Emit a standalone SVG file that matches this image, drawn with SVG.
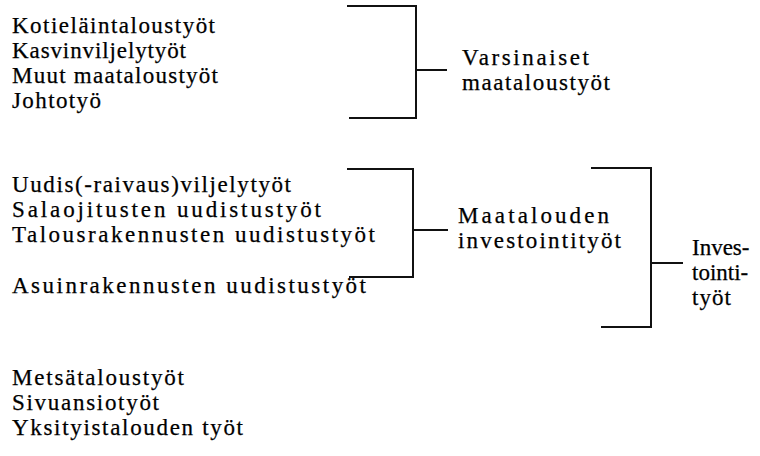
<svg xmlns="http://www.w3.org/2000/svg" width="760" height="456" viewBox="0 0 760 456" font-family="'Liberation Serif', 'DejaVu Serif', serif">
<style>
text{font-family:'Liberation Serif','DejaVu Serif',serif;font-size:23px;fill:#000;stroke:#000;stroke-width:0.25}
.b{fill:none;stroke:#111;stroke-width:2;stroke-linecap:square}
</style>
<rect width="760" height="456" fill="#fff"/>
<g id="items-farm">
<text x="12" y="33" textLength="203" lengthAdjust="spacing">Kotieläintaloustyöt</text>
<text x="12" y="58" textLength="174" lengthAdjust="spacing">Kasvinviljelytyöt</text>
<text x="12" y="83" textLength="206" lengthAdjust="spacing">Muut maataloustyöt</text>
<text x="12" y="108" textLength="89" lengthAdjust="spacing">Johtotyö</text>
</g>
<g id="items-invest">
<text x="12" y="192" textLength="279" lengthAdjust="spacing">Uudis(-raivaus)viljelytyöt</text>
<text x="12" y="217" textLength="309" lengthAdjust="spacing">Salaojitusten uudistustyöt</text>
<text x="12" y="242" textLength="363" lengthAdjust="spacing">Talousrakennusten uudistustyöt</text>
</g>
<g id="item-housing">
<text x="12" y="293" textLength="354" lengthAdjust="spacing">Asuinrakennusten uudistustyöt</text>
</g>
<g id="items-other">
<text x="12" y="385" textLength="172" lengthAdjust="spacing">Metsätaloustyöt</text>
<text x="12" y="410" textLength="147" lengthAdjust="spacing">Sivuansiotyöt</text>
<text x="12" y="435" textLength="231" lengthAdjust="spacing">Yksityistalouden työt</text>
</g>
<g id="varsinaiset">
<text x="462" y="65" textLength="127" lengthAdjust="spacing">Varsinaiset</text>
<text x="462" y="90" textLength="148" lengthAdjust="spacing">maataloustyöt</text>
</g>
<g id="maatalouden-investointi">
<text x="458" y="223" textLength="151" lengthAdjust="spacing">Maatalouden</text>
<text x="458" y="248" textLength="163" lengthAdjust="spacing">investointityöt</text>
</g>
<g id="investointityot">
<text x="692" y="255">Inves-</text>
<text x="692" y="280">tointi-</text>
<text x="692" y="305" letter-spacing="1">työt</text>
</g>
<g id="connectors">
<path class="b" d="M348 6H416V118H350M416 70H446"/>
<path class="b" d="M348 169H413V277H350M413 230H447"/>
<path class="b" d="M592 168H651V327H602M651 263H682"/>
</g>
</svg>
